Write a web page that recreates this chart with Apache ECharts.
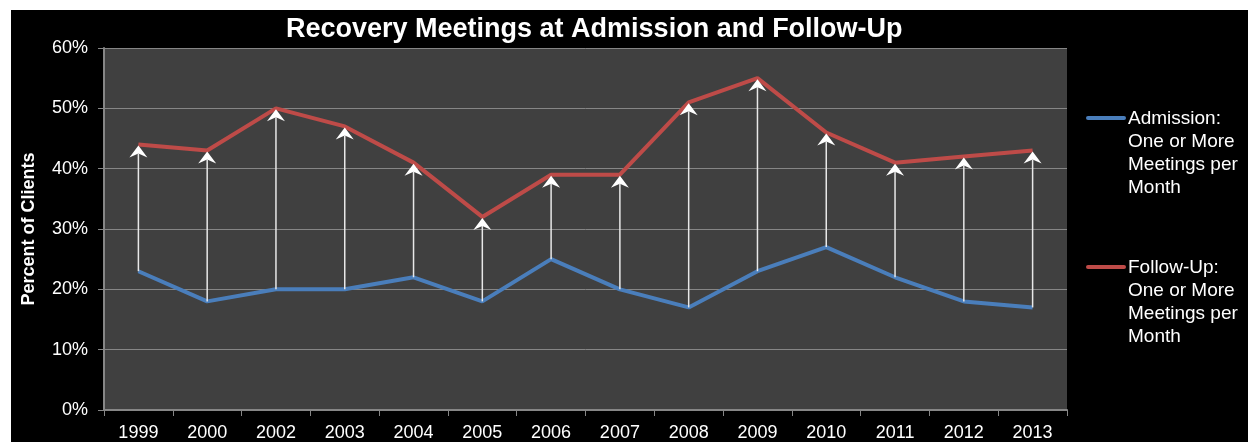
<!DOCTYPE html>
<html>
<head>
<meta charset="utf-8">
<script src="https://cdn.jsdelivr.net/npm/echarts@6/dist/echarts.min.js"></script>
<style>
  html, body { margin: 0; padding: 0; background: #fff; }
  #chart { position: absolute; left: 11px; top: 10px; width: 1237px; height: 432px; }
</style>
</head>
<body>
<div id="chart"></div>
<script>
// years (2001 missing in the source chart)
const years = ['1999', '2000', '2002', '2003', '2004', '2005', '2006', '2007', '2008', '2009', '2010', '2011', '2012', '2013'];
// percent of clients, one or more meetings per month
const admission = [23, 18, 20, 20, 22, 18, 25, 20, 17, 23, 27, 22, 18, 17];
const followUp = [44, 43, 50, 47, 41, 32, 39, 39, 51, 55, 46, 41, 42, 43];
const legendAdmission = ['Admission:', 'One or More', 'Meetings per', 'Month'];
const legendFollowUp = ['Follow-Up:', 'One or More', 'Meetings per', 'Month'];

const blue = '#4a7ebb';
const red = '#be4b48';
const font = 'Liberation Sans, Arial, sans-serif';

let myChart = echarts.init(document.getElementById('chart'));

// arrow from admission value up to follow-up value
function renderArrow(params, api) {
  let start = api.coord([api.value(0), api.value(1)]);
  let end = api.coord([api.value(0), api.value(2)]);
  let tipY = end[1] + 1;
  return {
    type: 'group',
    children: [
      {
        type: 'line',
        shape: { x1: start[0], y1: start[1], x2: start[0], y2: tipY + 8 },
        style: { stroke: '#e8e8e8', lineWidth: 1.5 }
      },
      {
        type: 'polygon',
        shape: {
          points: [[end[0], tipY], [end[0] + 9, tipY + 12], [end[0], tipY + 8], [end[0] - 9, tipY + 12]]
        },
        style: { fill: '#ffffff' }
      }
    ]
  };
}

let option = {
  backgroundColor: '#000',
  animation: false,
  title: {
    text: 'Recovery Meetings at Admission and Follow-Up',
    left: 275,
    top: 6,
    padding: 0,
    textStyle: { color: '#fff', fontFamily: font, fontSize: 27, fontWeight: 'bold' }
  },
  grid: {
    left: 93, top: 38, right: 181, bottom: 32,
    show: true, backgroundColor: '#404040', borderWidth: 0
  },
  xAxis: {
    type: 'category',
    data: years,
    boundaryGap: true,
    axisLine: { lineStyle: { color: '#868686', width: 2 } },
    axisTick: { show: true, length: 6, lineStyle: { color: '#868686' } },
    axisLabel: { color: '#fff', fontFamily: font, fontSize: 18, margin: 14 }
  },
  yAxis: {
    type: 'value',
    min: 0, max: 60, interval: 10,
    name: 'Percent of Clients',
    nameLocation: 'middle',
    nameGap: 66,
    nameTextStyle: { color: '#fff', fontFamily: font, fontSize: 18, fontWeight: 'bold' },
    axisLine: { show: true, lineStyle: { color: '#868686', width: 2 } },
    axisTick: { show: true, length: 6, lineStyle: { color: '#868686' } },
    axisLabel: { color: '#fff', fontFamily: font, fontSize: 18, margin: 16, formatter: '{value}%' },
    splitLine: { lineStyle: { color: '#868686', width: 1 } }
  },
  series: [
    {
      name: legendAdmission.join(' '),
      type: 'line',
      data: admission,
      symbol: 'none',
      lineStyle: { color: blue, width: 4 },
      itemStyle: { color: blue },
      z: 3
    },
    {
      name: legendFollowUp.join(' '),
      type: 'line',
      data: followUp,
      symbol: 'none',
      lineStyle: { color: red, width: 4 },
      itemStyle: { color: red },
      z: 3
    },
    {
      type: 'custom',
      renderItem: renderArrow,
      data: years.map((y, i) => [i, admission[i], followUp[i]]),
      encode: { x: 0, y: [1, 2] },
      z: 5
    }
  ],
  graphic: [
    {
      type: 'line',
      shape: { x1: 1077, y1: 108, x2: 1113, y2: 108 },
      style: { stroke: blue, lineWidth: 4, lineCap: 'round' }
    },
    {
      type: 'text',
      x: 1117, y: 97,
      style: { text: legendAdmission.join('\n'), fill: '#fff', font: '19px ' + font, lineHeight: 23, verticalAlign: 'top' }
    },
    {
      type: 'line',
      shape: { x1: 1077, y1: 257, x2: 1113, y2: 257 },
      style: { stroke: red, lineWidth: 4, lineCap: 'round' }
    },
    {
      type: 'text',
      x: 1117, y: 246,
      style: { text: legendFollowUp.join('\n'), fill: '#fff', font: '19px ' + font, lineHeight: 23, verticalAlign: 'top' }
    }
  ]
};

myChart.setOption(option);
window.addEventListener('resize', function () { myChart.resize(); });
</script>
</body>
</html>
